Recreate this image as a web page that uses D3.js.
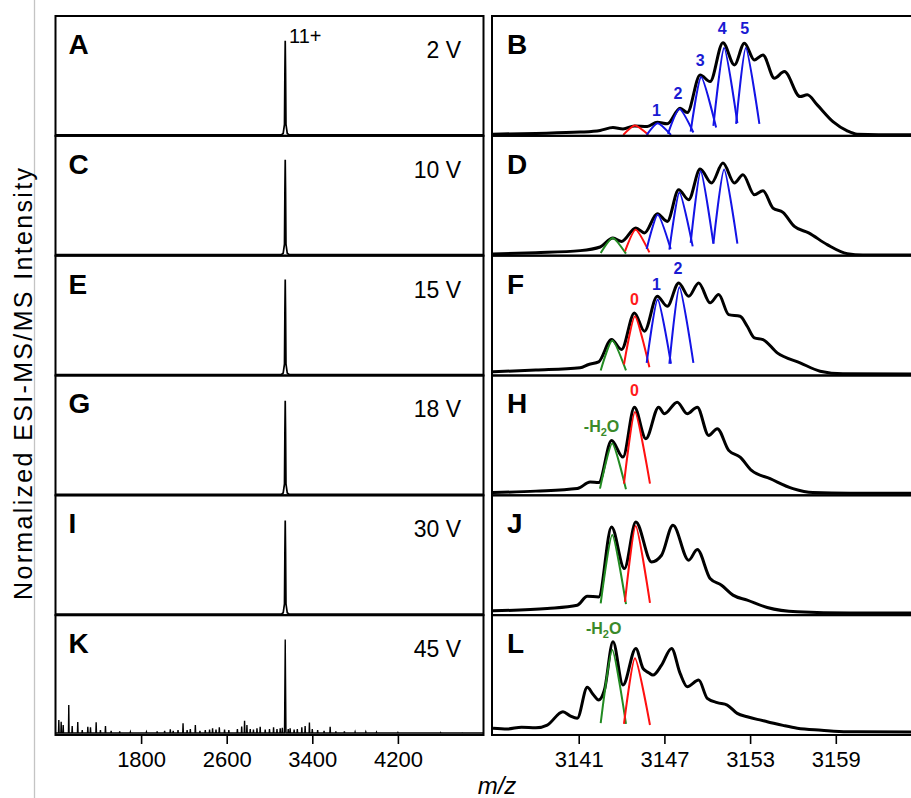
<!DOCTYPE html>
<html><head><meta charset="utf-8">
<script src="https://cdn.jsdelivr.net/npm/d3@7"></script>
<style>body{margin:0;background:#fff} svg{display:block} text{font-family:"Liberation Sans",Arial,Helvetica,sans-serif}</style>
</head><body><svg id="c" width="911" height="798"></svg>
<script>
// ---------------- data ----------------
const leftLetters = ["A","C","E","G","I","K"];
const rightLetters = ["B","D","F","H","J","L"];
const voltages = ["2 V","10 V","15 V","18 V","30 V","45 V"];
const leftTicks = [1800, 2600, 3400, 4200];
const rightTicks = [3141, 3147, 3153, 3159];

// main 11+ precursor peak (m/z, relative intensity) – profile fraction of peak height
const precursorMz = 3147;
const precursorHeights = [79.4, 80, 80, 79, 79, 79.75];
const spikeProfile = [[1000,0.01],[3110,0.01],[3128,0.025],[3140,0.12],[3144,0.7],[3147,1],[3150,0.7],[3154,0.12],[3166,0.025],[3185,0.01],[5000,0.01]];

// 45 V fragment peaks (m/z, intensity)
const fragK = [[1031,12.5],[1053,11],[1072,8.3],[1124,25],[1156,7.5],[1208,10.8],[1250,4],[1302,6.9],[1327,6.4],[1380,10.6],[1420,4],[1467,7.5],[1520,3.5],[1600,3],[1700,2.6],[1850,2.5],[1950,3],[2020,3.5],[2073,4.7],[2100,3.5],[2145,4.2],[2192,9.7],[2230,4],[2260,5],[2307,8.3],[2350,3.5],[2400,4],[2440,4.5],[2468,5.6],[2500,4.5],[2531,6.4],[2580,4.5],[2620,4],[2700,5],[2740,7],[2767,11.9],[2789,8.3],[2820,5],[2850,4.5],[2883,5.6],[2913,6.9],[2960,4.5],[3000,5],[3038,6.4],[3070,5],[3100,5.6],[3120,6],[3175,5],[3193,5.6],[3230,4.5],[3260,5],[3302,6.4],[3333,7.5],[3373,10.3],[3400,5],[3450,4],[3510,3.5],[3567,6.9],[3620,3],[3700,3],[3800,2.6],[3900,2.5],[4000,2.3],[4200,2.1],[4600,2],[4800,1.8]];
const baseK = 1.6;

// zoomed isotope envelopes (m/z, relative intensity)
const traceB = [[3135,1.4],[3138,2],[3141.1,3.1],[3142.5,4.5],[3143.4,6.9],[3144.1,5.8],[3144.9,8.3],[3145.8,7.75],[3146.5,11.4],[3147.2,10],[3148.1,23.1],[3148.6,19.4],[3149.5,50.8],[3150.2,45.3],[3151.1,77.75],[3151.9,59.2],[3152.6,77.25],[3153.3,63.3],[3153.9,67.5],[3154.7,48.1],[3155.4,53.6],[3156.5,32.75],[3157.0,34.2],[3157.7,25.8],[3158.8,11.9],[3159.8,4.2],[3160.5,1.4],[3162,1.0],[3165,1.0]];
const traceD = [[3135,1.4],[3138,2.5],[3141.1,4.2],[3142.5,7.25],[3143.4,14.75],[3144.0,11.9],[3145.0,23.1],[3145.6,19.0],[3146.5,35],[3147.2,28.6],[3148.0,55],[3148.7,46.7],[3149.5,72.25],[3150.3,60.6],[3151.1,77.25],[3151.9,60.6],[3152.5,67.5],[3153.3,50.8],[3153.9,54.2],[3154.6,39.75],[3155.3,36.1],[3156.1,24.4],[3157.1,19.0],[3158.4,9.2],[3159.8,1.7],[3160.9,0.6],[3165,0.6]];
const traceF = [[3135,3.1],[3138,4.5],[3141.1,6.4],[3141.7,9.2],[3142.4,11.4],[3143.3,30],[3144.0,21.7],[3144.9,52.25],[3145.6,36.9],[3146.5,66.1],[3147.2,57.75],[3148.0,77.25],[3148.7,66.1],[3149.4,77.25],[3150.2,60.6],[3150.8,67.5],[3151.5,50.8],[3152.3,49.4],[3152.8,41.1],[3153.3,31.4],[3153.9,30],[3154.9,18.9],[3156.5,10.6],[3157.9,3.6],[3159.5,1.4],[3165,1.25]];
const traceH = [[3135,2.25],[3138,3.5],[3140.9,5.6],[3141.8,11.1],[3142.4,10.6],[3143.3,45.8],[3144.1,31.9],[3144.9,73.6],[3145.7,47.25],[3146.6,73.6],[3147.0,68.1],[3147.9,77.75],[3148.6,68.1],[3149.3,73.6],[3150.1,50],[3150.7,55.6],[3151.5,37.5],[3152.3,31.9],[3153.1,20.8],[3154.4,13.9],[3156.0,5.6],[3157.4,2.25],[3160,1.7],[3165,1.7]];
const traceJ = [[3135,3.6],[3138.8,5.6],[3140.9,8.3],[3141.6,15.8],[3142.4,15.25],[3143.3,73.6],[3144.2,38.9],[3145.0,77.75],[3146.1,44.4],[3146.8,50],[3147.6,75],[3148.7,45.8],[3149.3,54.75],[3150.2,30.6],[3151.0,25],[3151.8,16.7],[3152.8,12.5],[3154.2,6.4],[3156.3,2.75],[3160,1.7],[3165,1.7]];
const traceL = [[3135,5.6],[3136,5],[3137,6.5],[3138,6],[3138.8,8.3],[3139.9,19.4],[3140.4,16],[3140.9,14],[3141.6,39.75],[3142.0,34],[3142.4,29.2],[3142.8,37.5],[3143.4,77.75],[3144.1,41.7],[3145.0,72.25],[3145.5,55.6],[3145.9,52],[3146.2,50],[3146.8,58.3],[3147.5,72.25],[3148.1,51.4],[3148.6,40.3],[3149.4,45.8],[3150.0,30.6],[3150.7,27],[3151.4,25],[3152.1,18],[3152.8,15.25],[3153.5,13],[3154.2,11.1],[3155.3,8],[3156.3,5.6],[3158,4],[3159.8,2.75],[3165,2.5]];
const traces = [traceB, traceD, traceF, traceH, traceJ, traceL];

// fitted isotope peaks: [colour key, [left m/z, int], [apex m/z, int], [right m/z, int]]
const fitsB = [["r",[3144.12,0.8],[3144.94,8.6],[3145.88,0.8]],["b",[3145.76,0.8],[3146.53,10.6],[3147.46,0.8]],["b",[3147.25,1.7],[3148.05,22.3],[3149.03,2.75]],["b",[3148.84,3.6],[3149.57,49],[3150.62,6.9]],["b",[3150.43,8.3],[3151.18,73.2],[3152.11,10.6]],["b",[3152.02,10],[3152.70,73.2],[3153.65,10]]];
const fitsD = [["g",[3142.54,2.25],[3143.38,14.8],[3144.31,1.7]],["r",[3144.24,3.6],[3144.99,21.7],[3145.95,2.75]],["b",[3145.76,5.6],[3146.53,34.2],[3147.44,5.6]],["b",[3147.35,5],[3148.05,52.8],[3148.98,7.75]],["b",[3148.84,10.6],[3149.54,70.4],[3150.43,10]],["b",[3150.43,10],[3151.18,71.8],[3152.11,10]]];
const fitsF = [["g",[3142.54,4.2],[3143.35,29.2],[3144.31,4.2]],["r",[3144.17,9.2],[3144.94,49.5],[3145.95,6.9]],["b",[3145.76,10.6],[3146.53,63.4],[3147.46,9.8]],["b",[3147.35,9.8],[3148.05,73.7],[3149.03,10.6]]];
const fitsH = [["g",[3142.49,5.6],[3143.35,43.2],[3144.31,5]],["r",[3144.17,9.8],[3144.94,69.5],[3145.99,9.8]]];
const fitsJ = [["g",[3142.54,9.8],[3143.35,66.8],[3144.31,9.2]],["r",[3144.24,11.1],[3144.99,74.3],[3145.99,10.3]]];
const fitsL = [["g",[3142.54,9.8],[3143.35,71],[3144.31,9.2]],["r",[3144.17,9.2],[3144.94,64],[3145.99,8.3]]];
const fits = [fitsB, fitsD, fitsF, fitsH, fitsJ, fitsL];

// peak annotations: [row, text, colour key, m/z, intensity of baseline]
const notes = [[0,"1","b",3146.45,16.7],[0,"2","b",3147.95,30.5],[0,"3","b",3149.5,58],[0,"4","b",3151.05,85],[0,"5","b",3152.62,85],
  [2,"0","r",3144.9,59],[2,"1","b",3146.45,71.6],[2,"2","b",3147.95,85],
  [3,"0","r",3144.9,83],[3,"-H2O","g",3142.6,53],
  [5,"-H2O","g",3142.75,84.3]];

// ---------------- drawing ----------------
const COL = {b:"#1414e6", r:"#ff1010", g:"#228b22"};
const LAB = {b:"#1a1ad2", r:"#ff1a1a", g:"#3a8a2a"};
const svg = d3.select("#c");
const ROW_TOP = 16, ROW_H = 119.83;
const LX0 = 55.5, LX1 = 483.5, RX0 = 493, RX1 = 921.5;
const xL = d3.scaleLinear().domain([1000,5000]).range([LX0,LX1]);
const xR = d3.scaleLinear().domain([3135,3165]).range([RX0,RX1]);

svg.append("line").attr("x1",34.5).attr("x2",34.5).attr("y1",0).attr("y2",798)
  .attr("stroke","#c4c4c4").attr("stroke-width",1.3);

const defs = svg.append("defs");
for (let i = 0; i < 6; i++) {
  const top = ROW_TOP + i*ROW_H, bot = top + ROW_H;
  const y = d3.scaleLinear().domain([0,100]).range([bot, top]);
  ["L","R"].forEach(s => {
    defs.append("clipPath").attr("id","cp"+s+i).append("rect")
      .attr("x", s==="L"?LX0:RX0).attr("y", top).attr("width", s==="L"?LX1-LX0:RX1-RX0).attr("height", ROW_H);
  });
  // left spectrum
  let pts = spikeProfile.map(d => [d[0], d[1]*precursorHeights[i]]);
  if (i === 5) {
    const all = [];
    const peaks = fragK.concat([[precursorMz, precursorHeights[i]]]).sort((a,b)=>a[0]-b[0]);
    all.push([1000, baseK]);
    peaks.forEach(p => {
      const w = p[0] === precursorMz ? 7 : 3;
      all.push([p[0]-w, baseK]); all.push([p[0], p[1]]); all.push([p[0]+w, baseK]);
    });
    all.push([5000, baseK]);
    pts = all;
  }
  const lineL = d3.line().x(d => xL(d[0])).y(d => y(d[1]));
  svg.append("path").attr("clip-path","url(#cpL"+i+")").attr("d", lineL(pts))
    .attr("fill","none").attr("stroke","#000").attr("stroke-width", i===5?1.4:1.7);

  // right envelope
  const lineR = d3.line().x(d => xR(d[0])).y(d => y(d[1])).curve(d3.curveMonotoneX);
  svg.append("path").attr("clip-path","url(#cpR"+i+")").attr("d", lineR(traces[i]))
    .attr("fill","none").attr("stroke","#000").attr("stroke-width", 3).attr("stroke-linejoin","round");
  // fits
  const lineF = d3.line().x(d => xR(d[0])).y(d => y(d[1])).curve(d3.curveCardinal.tension(0.35));
  fits[i].forEach(f => {
    svg.append("path").attr("clip-path","url(#cpR"+i+")").attr("d", lineF(f.slice(1)))
      .attr("fill","none").attr("stroke", COL[f[0]]).attr("stroke-width", 2);
  });
  // annotations
  notes.filter(n => n[0] === i).forEach(n => {
    const t = svg.append("text").attr("x", xR(n[3])).attr("y", y(n[4]))
      .attr("text-anchor","middle").attr("font-size",16).attr("font-weight","bold").attr("fill", LAB[n[2]]);
    if (n[1] === "-H2O") {
      t.append("tspan").text("-H");
      t.append("tspan").attr("font-size",11).attr("dy",4).text("2");
      t.append("tspan").attr("dy",-4).text("O");
    } else t.text(n[1]);
  });
  // borders
  svg.append("rect").attr("x",LX0).attr("y",top).attr("width",LX1-LX0).attr("height",ROW_H)
    .attr("fill","none").attr("stroke","#000").attr("stroke-width",2);
  svg.append("rect").attr("x",RX0-1).attr("y",top).attr("width",RX1-RX0+1).attr("height",ROW_H)
    .attr("fill","none").attr("stroke","#000").attr("stroke-width",2);
  // labels
  svg.append("text").attr("x",LX0+13).attr("y",top+38).attr("font-size",28).attr("font-weight","bold").text(leftLetters[i]);
  svg.append("text").attr("x",RX0+14).attr("y",top+38).attr("font-size",28).attr("font-weight","bold").text(rightLetters[i]);
  svg.append("text").attr("x",461).attr("y",top+42).attr("text-anchor","end").attr("font-size",23).text(voltages[i]);
}
svg.append("text").attr("x",289).attr("y",ROW_TOP+27).attr("font-size",20).text("11+");

// axes
const axisY = ROW_TOP + 6*ROW_H;
function styleAxis(g){
  g.select(".domain").remove();
  g.selectAll(".tick line").attr("stroke","#000").attr("stroke-width",1.6);
  g.selectAll(".tick text").attr("font-size",22).attr("fill","#000").attr("font-family",'"Liberation Sans",Arial,sans-serif');
}
svg.append("g").attr("transform",`translate(0,${axisY})`)
  .call(d3.axisBottom(xL).tickValues(leftTicks).tickSize(9).tickPadding(7).tickFormat(d3.format("d"))).call(styleAxis);
svg.append("g").attr("transform",`translate(0,${axisY})`)
  .call(d3.axisBottom(xR).tickValues(rightTicks).tickSize(9).tickPadding(7).tickFormat(d3.format("d"))).call(styleAxis);

svg.append("text").attr("x",497).attr("y",794).attr("text-anchor","middle").attr("font-size",24).attr("font-style","italic").text("m/z");
svg.append("text").attr("transform","translate(32,384) rotate(-90)").attr("text-anchor","middle")
  .attr("font-size",25).attr("textLength",432).attr("lengthAdjust","spacing").text("Normalized  ESI-MS/MS  Intensity");
</script></body></html>
